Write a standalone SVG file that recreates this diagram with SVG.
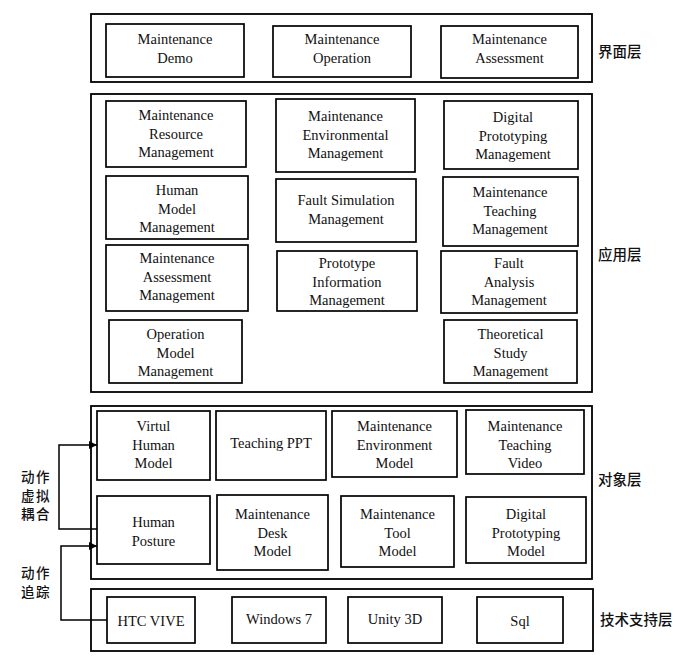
<svg xmlns="http://www.w3.org/2000/svg" width="700" height="666" viewBox="0 0 700 666">
<style>
.layer{fill:#fff;stroke:#000;stroke-width:1.8}
.box{fill:#fff;stroke:#000;stroke-width:1.7}
.t{font-family:"Liberation Serif","Times New Roman",serif;font-size:14.5px;fill:#111;text-anchor:middle}
.cn{font-family:"Noto Sans CJK SC","Noto Sans",sans-serif;font-size:14.5px;fill:#111;font-weight:500}
.cs{font-family:"Noto Sans CJK SC","Noto Sans",sans-serif;font-size:13.5px;fill:#111;font-weight:500;letter-spacing:1.5px}
.conn{fill:none;stroke:#000;stroke-width:1.5}
</style>
<defs>
<marker id="ah" viewBox="0 0 10 10" refX="10" refY="5" markerWidth="8" markerHeight="8" markerUnits="userSpaceOnUse" orient="auto">
<path d="M0,0 L10,5 L0,10 z" fill="#000"/>
</marker>
</defs>
<rect width="700" height="666" fill="#fff"/>

<g id="layer-interface">
<rect class="layer" x="91" y="14" width="501" height="68"/>
<text class="cn" x="598" y="57">界面层</text>
</g>
<g id="layer-application">
<rect class="layer" x="91" y="94" width="501" height="298"/>
<text class="cn" x="598" y="260">应用层</text>
</g>
<g id="layer-object">
<rect class="layer" x="91" y="406" width="501" height="173"/>
<text class="cn" x="598" y="485">对象层</text>
</g>
<g id="layer-tech">
<rect class="layer" x="91" y="589" width="502" height="62"/>
<text class="cn" x="600" y="625">技术支持层</text>
</g>

<g id="n-demo"><rect class="box" x="106" y="24" width="138" height="53"/><text class="t" y="44"><tspan x="175">Maintenance</tspan><tspan x="175" dy="19">Demo</tspan></text></g>
<g id="n-operation"><rect class="box" x="273" y="26" width="138" height="51"/><text class="t" y="44"><tspan x="342">Maintenance</tspan><tspan x="342" dy="19">Operation</tspan></text></g>
<g id="n-assessment"><rect class="box" x="441" y="26" width="137" height="52"/><text class="t" y="44"><tspan x="509.5">Maintenance</tspan><tspan x="509.5" dy="19">Assessment</tspan></text></g>

<g id="n-mrm"><rect class="box" x="106" y="101" width="140" height="66"/><text class="t" y="120"><tspan x="176">Maintenance</tspan><tspan x="176" dy="18.5">Resource</tspan><tspan x="176" dy="18.5">Management</tspan></text></g>
<g id="n-mem"><rect class="box" x="276" y="99" width="139" height="73"/><text class="t" y="121"><tspan x="345.5">Maintenance</tspan><tspan x="345.5" dy="18.5">Environmental</tspan><tspan x="345.5" dy="18.5">Management</tspan></text></g>
<g id="n-dpm"><rect class="box" x="444" y="101" width="134" height="68"/><text class="t" y="122"><tspan x="513">Digital</tspan><tspan x="513" dy="18.5">Prototyping</tspan><tspan x="513" dy="18.5">Management</tspan></text></g>
<g id="n-hmm"><rect class="box" x="106" y="176" width="142" height="63"/><text class="t" y="195"><tspan x="177">Human</tspan><tspan x="177" dy="18.5">Model</tspan><tspan x="177" dy="18.5">Management</tspan></text></g>
<g id="n-fsm"><rect class="box" x="276" y="179" width="140" height="63"/><text class="t" y="205"><tspan x="346">Fault Simulation</tspan><tspan x="346" dy="18.5">Management</tspan></text></g>
<g id="n-mtm"><rect class="box" x="443" y="177" width="135" height="69"/><text class="t" y="197"><tspan x="510">Maintenance</tspan><tspan x="510" dy="18.5">Teaching</tspan><tspan x="510" dy="18.5">Management</tspan></text></g>
<g id="n-mam"><rect class="box" x="106" y="245" width="142" height="66"/><text class="t" y="263"><tspan x="177">Maintenance</tspan><tspan x="177" dy="18.5">Assessment</tspan><tspan x="177" dy="18.5">Management</tspan></text></g>
<g id="n-pim"><rect class="box" x="277" y="251" width="140" height="60"/><text class="t" y="268"><tspan x="347">Prototype</tspan><tspan x="347" dy="18.5">Information</tspan><tspan x="347" dy="18.5">Management</tspan></text></g>
<g id="n-fam"><rect class="box" x="441" y="251" width="136" height="62"/><text class="t" y="268"><tspan x="509">Fault</tspan><tspan x="509" dy="18.5">Analysis</tspan><tspan x="509" dy="18.5">Management</tspan></text></g>
<g id="n-omm"><rect class="box" x="109" y="320" width="133" height="63"/><text class="t" y="339"><tspan x="175.5">Operation</tspan><tspan x="175.5" dy="18.5">Model</tspan><tspan x="175.5" dy="18.5">Management</tspan></text></g>
<g id="n-tsm"><rect class="box" x="444" y="320" width="133" height="63"/><text class="t" y="339"><tspan x="510.5">Theoretical</tspan><tspan x="510.5" dy="18.5">Study</tspan><tspan x="510.5" dy="18.5">Management</tspan></text></g>

<g id="n-vhm"><rect class="box" x="97" y="411" width="113" height="69"/><text class="t" y="431"><tspan x="153.5">Virtul</tspan><tspan x="153.5" dy="18.5">Human</tspan><tspan x="153.5" dy="18.5">Model</tspan></text></g>
<g id="n-ppt"><rect class="box" x="216" y="411" width="110" height="69"/><text class="t" x="271" y="448">Teaching PPT</text></g>
<g id="n-envm"><rect class="box" x="332" y="411" width="125" height="66"/><text class="t" y="431"><tspan x="394.5">Maintenance</tspan><tspan x="394.5" dy="18.5">Environment</tspan><tspan x="394.5" dy="18.5">Model</tspan></text></g>
<g id="n-mtv"><rect class="box" x="466" y="410" width="118" height="64"/><text class="t" y="431"><tspan x="525">Maintenance</tspan><tspan x="525" dy="18.5">Teaching</tspan><tspan x="525" dy="18.5">Video</tspan></text></g>
<g id="n-hp"><rect class="box" x="97" y="496" width="113" height="68"/><text class="t" y="527"><tspan x="153.5">Human</tspan><tspan x="153.5" dy="18.5">Posture</tspan></text></g>
<g id="n-mdm"><rect class="box" x="217" y="495" width="111" height="75"/><text class="t" y="519"><tspan x="272.5">Maintenance</tspan><tspan x="272.5" dy="18.5">Desk</tspan><tspan x="272.5" dy="18.5">Model</tspan></text></g>
<g id="n-mtool"><rect class="box" x="341" y="496" width="113" height="71"/><text class="t" y="519"><tspan x="397.5">Maintenance</tspan><tspan x="397.5" dy="18.5">Tool</tspan><tspan x="397.5" dy="18.5">Model</tspan></text></g>
<g id="n-dpmod"><rect class="box" x="466" y="497" width="120" height="66"/><text class="t" y="519"><tspan x="526">Digital</tspan><tspan x="526" dy="18.5">Prototyping</tspan><tspan x="526" dy="18.5">Model</tspan></text></g>

<g id="n-htc"><rect class="box" x="107" y="597" width="88" height="46"/><text class="t" x="151" y="626">HTC VIVE</text></g>
<g id="n-win"><rect class="box" x="232" y="597" width="94" height="46"/><text class="t" x="279" y="624">Windows 7</text></g>
<g id="n-unity"><rect class="box" x="348" y="597" width="94" height="46"/><text class="t" x="395" y="624">Unity 3D</text></g>
<g id="n-sql"><rect class="box" x="477" y="597" width="86" height="46"/><text class="t" x="520" y="626">Sql</text></g>

<g id="connectors">
<path class="conn" d="M97,529 H59 V445 H97" marker-end="url(#ah)"/>
<path class="conn" d="M107,620 H61 V546 H97" marker-end="url(#ah)"/>
</g>
<g id="connector-labels">
<text class="cs" x="21" y="482">动作</text>
<text class="cs" x="21" y="500.5">虚拟</text>
<text class="cs" x="21" y="519">耦合</text>
<text class="cs" x="21" y="578">动作</text>
<text class="cs" x="21" y="597">追踪</text>
</g>
</svg>
